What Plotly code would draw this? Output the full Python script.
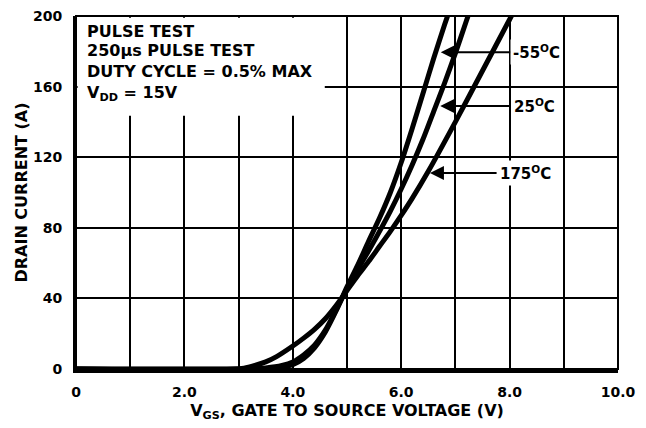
import plotly.graph_objects as go

# ---- data ----
vgs_m55 = [0, 3.4, 3.7, 4.0, 4.2, 4.4, 4.6, 4.8, 5.0, 5.2, 5.4, 5.6, 5.8, 6.0, 6.2, 6.4, 6.6, 6.8, 6.9]
id_m55 = [0, 0, 0.6, 2.5, 6, 12, 21, 33, 46.5, 59, 72.5, 85.5, 100, 117, 136, 156, 176, 195, 204]

vgs_25 = [0, 3.2, 3.5, 3.8, 4.0, 4.2, 4.4, 4.6, 4.8, 5.0, 5.2, 5.4, 5.6, 5.8, 6.0, 6.2, 6.4, 6.6, 6.8, 7.0, 7.2, 7.3]
id_25 = [0, 0, 0.6, 2, 4, 8, 13.5, 22, 33.5, 45.5, 56.5, 67, 78, 89.5, 102, 115.5, 130, 146, 162, 179, 197, 206]

vgs_175 = [0, 2.9, 3.1, 3.3, 3.5, 3.7, 4.0, 4.2, 4.4, 4.6, 4.8, 5.0, 5.2, 5.4, 5.6, 5.8, 6.0, 6.2, 6.5, 7.0, 7.5, 8.0, 8.1]
id_175 = [0, 0, 0.5, 2, 4, 7, 13, 17.5, 22.5, 28.5, 36, 44.5, 53, 61, 69.5, 78, 87, 96.5, 112, 140, 169, 198, 204]

x_tickvals = [0, 2, 4, 6, 8, 10]
x_ticktext = ["0", "2.0", "4.0", "6.0", "8.0", "10.0"]
y_tickvals = [0, 40, 80, 120, 160, 200]
y_ticktext = ["0", "40", "80", "120", "160", "200"]

notes = ["PULSE TEST", "250\u00b5s PULSE TEST", "DUTY CYCLE = 0.5% MAX", "V<sub>DD</sub> = 15V"]
note_y = [191.2, 180.2, 168.3, 156.0]

curve_labels = ["-55<sup>O</sup>C", "25<sup>O</sup>C", "175<sup>O</sup>C"]
label_pos = [(8.01, 179.5), (8.02, 149.0), (7.76, 111.0)]   # text (left edge) positions
arrow_tip = [(6.73, 179.5), (6.72, 149.0), (6.53, 111.0)]

FONT = "DejaVu Sans"
BOLD = dict(family=FONT, color="black", weight="bold")

fig = go.Figure()
for xs, ys in [(vgs_m55, id_m55), (vgs_25, id_25), (vgs_175, id_175)]:
    fig.add_trace(go.Scatter(x=xs, y=ys, mode="lines",
                             line=dict(color="black", width=5, shape="spline", smoothing=0.8),
                             showlegend=False, hoverinfo="skip"))

shapes = [
    # white backing for the note block
    dict(type="rect", xref="x", yref="y", x0=0.03, x1=4.59, y0=143.5, y1=199.0,
         fillcolor="white", line=dict(width=0), layer="above"),
    # frame
    dict(type="rect", xref="x domain", yref="y domain", x0=0, x1=1, y0=0, y1=1,
         line=dict(color="black", width=2), layer="above"),
]

annotations = []
for t, yv in zip(notes, note_y):
    annotations.append(dict(x=0.17, y=yv, xref="x", yref="y", text=t, showarrow=False,
                            xanchor="left", yanchor="middle", font=dict(size=16, **BOLD)))
for t, (lx, ly), (tx, ty) in zip(curve_labels, label_pos, arrow_tip):
    annotations.append(dict(x=tx, y=ty, xref="x", yref="y", ax=lx, ay=ly, axref="x", ayref="y",
                            text=t, showarrow=True, arrowhead=2, arrowsize=1.4, arrowwidth=2,
                            arrowcolor="black", standoff=0, xanchor="left", yanchor="middle",
                            bgcolor="white", borderpad=2, font=dict(size=15, **BOLD)))

grid = dict(showgrid=True, gridcolor="black", gridwidth=2)
fig.update_layout(
    width=646, height=428,
    margin=dict(l=76, r=28, t=16, b=59),
    paper_bgcolor="white", plot_bgcolor="white",
    font=dict(size=14, **BOLD),
    shapes=shapes, annotations=annotations,
    xaxis=dict(range=[0, 10], tickvals=x_tickvals, ticktext=x_ticktext, automargin=False,
               minor=dict(dtick=1, tick0=0, **grid), zeroline=False,
               showline=True, linecolor="black", linewidth=4, ticks="", ticklabelstandoff=7,
               tickfont=dict(size=14, **BOLD), **grid,
               title=dict(text="V<sub>GS</sub>, GATE TO SOURCE VOLTAGE (V)", standoff=7,
                          font=dict(size=16, **BOLD))),
    yaxis=dict(range=[0, 200], tickvals=y_tickvals, ticktext=y_ticktext, automargin=False,
               zeroline=False, **grid,
               showline=True, linecolor="black", linewidth=3, ticks="", ticklabelstandoff=8,
               tickfont=dict(size=14, **BOLD),
               title=dict(text="DRAIN CURRENT (A)", standoff=2, font=dict(size=16, **BOLD))),
)

fig.write_html("out.html", config={"displayModeBar": False},
               post_script="document.body.style.margin='0';document.body.style.overflow='hidden';")
